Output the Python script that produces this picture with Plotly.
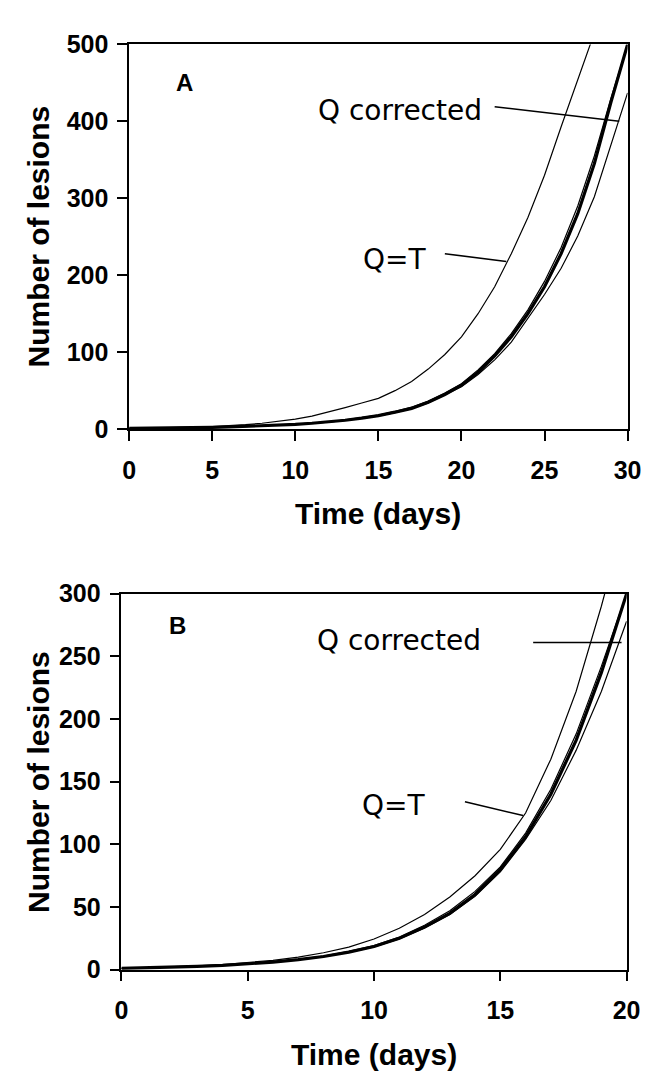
import plotly.graph_objects as go

# ---------------- Data ----------------
# Panel A
days_a = list(range(0, 31))
qt_a_days = list(range(0, 29))
qt_a = [1, 1.2, 1.5, 2, 2.6, 3.4, 4.4, 5.8, 7.6, 10, 13, 17, 22, 28, 34, 40,
        50, 62, 78, 97, 120, 150, 185, 228, 275, 330, 393, 455, 515]
thick_a = [1, 1.1, 1.3, 1.6, 1.9, 2.3, 2.8, 3.4, 4.2, 5.1, 6.2, 7.6, 9.3, 11.5,
           14.3, 17.6, 22, 27, 35, 45, 57, 74, 95, 120, 150, 185, 228, 280,
           345, 425, 500]
near_a = [1, 1.1, 1.3, 1.6, 2.0, 2.4, 2.9, 3.5, 4.3, 5.3, 6.4, 7.8, 9.6, 11.9,
          14.8, 18.2, 23, 28.5, 36.5, 47, 59, 77, 98, 124, 155, 192, 236, 290,
          355, 430, 500]
qc_a = [1, 1.1, 1.3, 1.6, 1.9, 2.3, 2.7, 3.3, 4.1, 5.0, 6.1, 7.4, 9.1, 11.3,
        14.0, 17.2, 21.5, 26.5, 34, 44, 55, 71, 90, 113, 144, 175, 209, 251,
        302, 370, 437]

# Panel B
days_b = list(range(0, 21))
qt_b_days = list(range(0, 20)) + [19.2]
qt_b = [1, 1.5, 2.2, 3, 4, 5.5, 7.5, 10, 13.5, 18, 24.5, 33, 44, 58, 75, 96,
        125, 168, 222, 290, 305]
thick_b = [1, 1.4, 1.9, 2.6, 3.4, 4.5, 6, 8, 10.5, 14, 18.5, 25, 34, 45, 60,
           80, 106, 140, 183, 237, 300]
near_b = [1, 1.4, 1.9, 2.6, 3.5, 4.6, 6.2, 8.3, 10.9, 14.6, 19.3, 26, 35.5, 47,
          62.5, 82, 109, 144, 188, 242, 300]
qc_b = [1, 1.4, 1.9, 2.6, 3.4, 4.5, 6, 8, 10.4, 13.8, 18.2, 24.5, 33.3, 44,
        58.5, 78, 104, 135, 175, 222, 278]

x_ticks_a = [0, 5, 10, 15, 20, 25, 30]
y_ticks_a = [0, 100, 200, 300, 400, 500]
x_ticks_b = [0, 5, 10, 15, 20]
y_ticks_b = [0, 50, 100, 150, 200, 250, 300]

# ---------------- Layout helpers ----------------
W, H = 651, 1076


def px(x):
    return x / W


def py(y):
    return 1 - y / H


TICK_FONT = dict(family="Liberation Sans, Arial, sans-serif",
                 size=25, color="black", weight="bold")
TITLE_FONT = dict(family="Liberation Sans, Arial, sans-serif", size=30, color="black", weight="bold")
LABEL_FONT = dict(family="DejaVu Sans, sans-serif", size=28, color="black")
PANEL_FONT = dict(family="Liberation Sans, Arial, sans-serif", size=24, color="black", weight="bold")

fig = go.Figure()

thin = dict(color="black", width=1.2)
thick = dict(color="black", width=3.2)

fig.add_trace(go.Scatter(x=qt_a_days, y=qt_a, mode="lines", line=thin, xaxis="x", yaxis="y"))
fig.add_trace(go.Scatter(x=days_a, y=near_a, mode="lines", line=thin, xaxis="x", yaxis="y"))
fig.add_trace(go.Scatter(x=days_a, y=qc_a, mode="lines", line=thin, xaxis="x", yaxis="y"))
fig.add_trace(go.Scatter(x=days_a, y=thick_a, mode="lines", line=thick, xaxis="x", yaxis="y"))

fig.add_trace(go.Scatter(x=qt_b_days, y=qt_b, mode="lines", line=thin, xaxis="x2", yaxis="y2"))
fig.add_trace(go.Scatter(x=days_b, y=near_b, mode="lines", line=thin, xaxis="x2", yaxis="y2"))
fig.add_trace(go.Scatter(x=days_b, y=qc_b, mode="lines", line=thin, xaxis="x2", yaxis="y2"))
fig.add_trace(go.Scatter(x=days_b, y=thick_b, mode="lines", line=thick, xaxis="x2", yaxis="y2"))

axis_common = dict(showgrid=False, zeroline=False, showline=True, linecolor="black",
                   linewidth=1.5, mirror=True, ticks="outside", ticklen=10,
                   tickwidth=1.5, tickcolor="black", tickfont=TICK_FONT)

fig.update_layout(
    width=W, height=H,
    margin=dict(l=0, r=0, t=0, b=0),
    paper_bgcolor="white", plot_bgcolor="white",
    showlegend=False,
    xaxis=dict(domain=[px(118), px(633)], range=[0, 30], tickvals=x_ticks_a,
               anchor="y", ticklabelstandoff=8, **axis_common),
    yaxis=dict(domain=[py(418), py(23)], range=[0, 500], tickvals=y_ticks_a,
               anchor="x", ticklabelstandoff=4, **axis_common),
    xaxis2=dict(domain=[px(110), px(632)], range=[0, 20], tickvals=x_ticks_b,
                anchor="y2", ticklabelstandoff=8, **axis_common),
    yaxis2=dict(domain=[py(973), py(587)], range=[0, 300], tickvals=y_ticks_b,
                anchor="x2", ticklabelstandoff=4, **axis_common),
)

annotations = [
    # axis titles
    dict(text="Number of lesions", textangle=-90, x=px(24), y=py(220), xref="paper", yref="paper",
         showarrow=False, font=TITLE_FONT, xanchor="center", yanchor="middle"),
    dict(text="Time (days)", x=px(375), y=py(505), xref="paper", yref="paper",
         showarrow=False, font=TITLE_FONT, xanchor="center", yanchor="middle"),
    dict(text="Number of lesions", textangle=-90, x=px(24), y=py(780), xref="paper", yref="paper",
         showarrow=False, font=TITLE_FONT, xanchor="center", yanchor="middle"),
    dict(text="Time (days)", x=px(371), y=py(1060), xref="paper", yref="paper",
         showarrow=False, font=TITLE_FONT, xanchor="center", yanchor="middle"),
    # panel letters
    dict(text="A", x=3.3, y=451, xref="x", yref="y", showarrow=False, font=PANEL_FONT),
    dict(text="B", x=2.2, y=275, xref="x2", yref="y2", showarrow=False, font=PANEL_FONT),
    # curve labels
    dict(text="Q corrected", x=16.3, y=414, xref="x", yref="y", showarrow=False, font=LABEL_FONT),
    dict(text="Q=T", x=16.0, y=221, xref="x", yref="y", showarrow=False, font=LABEL_FONT),
    dict(text="Q corrected", x=11.0, y=263, xref="x2", yref="y2", showarrow=False, font=LABEL_FONT),
    dict(text="Q=T", x=10.8, y=131, xref="x2", yref="y2", showarrow=False, font=LABEL_FONT),
]
fig.update_layout(annotations=annotations)

# pointer lines
shapes = [
    dict(type="line", xref="x", yref="y", x0=22.0, y0=419, x1=29.5, y1=400,
         line=dict(color="black", width=1.5)),
    dict(type="line", xref="x", yref="y", x0=19.0, y0=228, x1=22.7, y1=218,
         line=dict(color="black", width=1.5)),
    dict(type="line", xref="x2", yref="y2", x0=16.3, y0=261, x1=19.8, y1=261,
         line=dict(color="black", width=1.5)),
    dict(type="line", xref="x2", yref="y2", x0=13.6, y0=134, x1=15.9, y1=123,
         line=dict(color="black", width=1.5)),
]
fig.update_layout(shapes=shapes)

fig.write_html("out.html")
